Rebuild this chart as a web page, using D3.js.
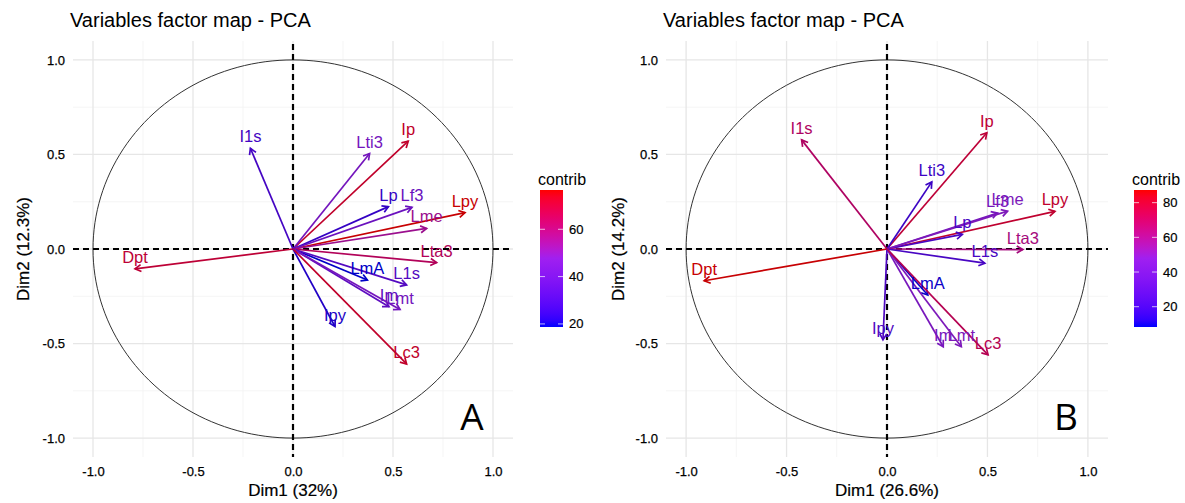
<!DOCTYPE html>
<html>
<head>
<meta charset="utf-8">
<script src="https://cdn.jsdelivr.net/npm/d3@7"></script>
<style>
  body { margin: 0; background: #ffffff; }
  svg { display: block; font-family: "Liberation Sans", Arial, Helvetica, sans-serif; }
</style>
</head>
<body>
<svg id="chart" width="1185" height="503"></svg>
<script>
// ---------------- DATA ----------------
const variables = ["Lpy","Ip","Lti3","I1s","Lp","Lf3","Lme","Lta3","Dpt","LmA","L1s","Im","Lmt","Ipy","Lc3"];

// Panel A : Dim1 (32%) / Dim2 (12.3%)
const dim1A    = [0.860, 0.576, 0.383, -0.213, 0.477, 0.595, 0.668, 0.718, -0.790, 0.372, 0.568, 0.480, 0.535, 0.210, 0.568];
const dim2A    = [0.192, 0.570, 0.505,  0.533, 0.224, 0.220, 0.109, -0.072, -0.105, -0.164, -0.190, -0.305, -0.320, -0.410, -0.608];
const contribA = [76.5, 72, 44, 28, 24, 40, 55, 64, 70, 18.7, 32, 36, 44, 21, 72];

// Panel B : Dim1 (26.6%) / Dim2 (14.2%)
const dim1B    = [0.836, 0.497, 0.223, -0.425, 0.375, 0.550, 0.600, 0.676, -0.910, 0.203, 0.487, 0.280, 0.370, -0.020, 0.503];
const dim2B    = [0.199, 0.615, 0.355,  0.577, 0.077, 0.190, 0.200, -0.003, -0.168, -0.243, -0.075, -0.517, -0.517, -0.480, -0.560];
const contribB = [80, 78, 18, 68, 22, 44, 48, 62, 87, 9, 22, 45, 48, 25, 72];

const axisTicks   = [-1.0, -0.5, 0.0, 0.5, 1.0];
const minorTicks  = [-0.75, -0.25, 0.25, 0.75];
const legendTicksA = [20, 40, 60];
const legendTicksB = [20, 40, 60, 80];
const contribRangeA = [18.7, 76.6];
const contribRangeB = [8.3, 87.3];
const gradientColors = ["#0000FF", "#A020F0", "#FF0000"];

const plotTitle = "Variables factor map - PCA";
const xTitleA = "Dim1 (32%)",   yTitleA = "Dim2 (12.3%)";
const xTitleB = "Dim1 (26.6%)", yTitleB = "Dim2 (14.2%)";
const legendTitle = "contrib";

// ---------------- LAYOUT ----------------
const panels = [
  { id: "A", d1: dim1A, d2: dim2A, contrib: contribA, range: contribRangeA, lticks: legendTicksA,
    xTitle: xTitleA, yTitle: yTitleA, left: 73, right: 513, yTitleX: 23, legendX: 540, tagX: 472 },
  { id: "B", d1: dim1B, d2: dim2B, contrib: contribB, range: contribRangeB, lticks: legendTicksB,
    xTitle: xTitleB, yTitle: yTitleB, left: 666, right: 1108, yTitleX: 618, legendX: 1134, tagX: 1066 }
];
const plotTop = 41, plotBottom = 457;
const dom = [-1.1, 1.1];

const svg = d3.select("#chart");

panels.forEach((p) => {
  const g = svg.append("g");
  const x = d3.scaleLinear().domain(dom).range([p.left, p.right]);
  const y = d3.scaleLinear().domain(dom).range([plotBottom, plotTop]);
  const color = d3.scaleLinear()
    .domain([p.range[0], (p.range[0] + p.range[1]) / 2, p.range[1]])
    .range(gradientColors)
    .interpolate(d3.interpolateLab);
  const ink = v => d3.color(color(v)).darker(0.7).formatHex();

  // minor grid
  g.selectAll(".mx").data(minorTicks).enter().append("line")
    .attr("x1", d => x(d)).attr("x2", d => x(d)).attr("y1", plotTop).attr("y2", plotBottom)
    .attr("stroke", "#f2f2f2").attr("stroke-width", 0.8);
  g.selectAll(".my").data(minorTicks).enter().append("line")
    .attr("y1", d => y(d)).attr("y2", d => y(d)).attr("x1", p.left).attr("x2", p.right)
    .attr("stroke", "#f2f2f2").attr("stroke-width", 0.8);
  // major grid
  g.selectAll(".gx").data(axisTicks).enter().append("line")
    .attr("x1", d => x(d)).attr("x2", d => x(d)).attr("y1", plotTop).attr("y2", plotBottom)
    .attr("stroke", "#e6e6e6").attr("stroke-width", 1.3);
  g.selectAll(".gy").data(axisTicks).enter().append("line")
    .attr("y1", d => y(d)).attr("y2", d => y(d)).attr("x1", p.left).attr("x2", p.right)
    .attr("stroke", "#e6e6e6").attr("stroke-width", 1.3);

  // axes (labels only)
  const fmt = d => d3.format(".1f")(d).replace("\u2212", "-");
  const xAxis = d3.axisBottom(x).tickValues(axisTicks).tickFormat(fmt).tickSize(0).tickPadding(10);
  const gx = g.append("g").attr("transform", `translate(0,${plotBottom})`).call(xAxis);
  const yAxis = d3.axisLeft(y).tickValues(axisTicks).tickFormat(fmt).tickSize(0).tickPadding(8);
  const gy = g.append("g").attr("transform", `translate(${p.left},0)`).call(yAxis);
  [gx, gy].forEach(a => {
    a.select(".domain").remove();
    a.selectAll("text").attr("font-size", 13).attr("fill", "#000")
      .attr("font-family", "'Liberation Sans', Arial, sans-serif")
      .attr("stroke", "#000").attr("stroke-width", 0.25);
  });

  // correlation circle
  const circ = d3.range(0, 361, 2).map(a => [Math.cos(a * Math.PI / 180), Math.sin(a * Math.PI / 180)]);
  g.append("path")
    .attr("d", d3.line().x(d => x(d[0])).y(d => y(d[1]))(circ))
    .attr("fill", "none").attr("stroke", "#333").attr("stroke-width", 1);

  // dashed reference lines
  g.append("line").attr("x1", x(0)).attr("x2", x(0)).attr("y1", plotTop + 3).attr("y2", plotBottom)
    .attr("stroke", "#000").attr("stroke-width", 2.2).attr("stroke-dasharray", "6,4");
  g.append("line").attr("x1", p.left).attr("x2", p.right).attr("y1", y(0)).attr("y2", y(0))
    .attr("stroke", "#000").attr("stroke-width", 2.2).attr("stroke-dasharray", "6,4");

  // arrows
  const rows = variables.map((v, i) => ({ name: v, a: p.d1[i], b: p.d2[i], c: p.contrib[i] }));
  const headLen = 7, headAng = Math.PI / 6;
  rows.forEach(r => {
    const x0 = x(0), y0 = y(0), x1 = x(r.a), y1 = y(r.b);
    const ang = Math.atan2(y1 - y0, x1 - x0);
    const col = ink(r.c);
    g.append("line").attr("x1", x0).attr("y1", y0).attr("x2", x1).attr("y2", y1)
      .attr("stroke", col).attr("stroke-width", 1.7);
    const h1 = [x1 - headLen * Math.cos(ang - headAng), y1 - headLen * Math.sin(ang - headAng)];
    const h2 = [x1 - headLen * Math.cos(ang + headAng), y1 - headLen * Math.sin(ang + headAng)];
    g.append("path").attr("d", `M${h1[0]},${h1[1]}L${x1},${y1}L${h2[0]},${h2[1]}`)
      .attr("fill", "none").attr("stroke", col).attr("stroke-width", 1.7);
  });
  rows.forEach(r => {
    g.append("text").attr("x", x(r.a)).attr("y", y(r.b) - 6)
      .attr("text-anchor", "middle").attr("font-size", 16.5)
      .attr("fill", ink(r.c)).text(r.name);
  });

  // titles
  svg.append("text").attr("x", p.left - 3).attr("y", 27).attr("font-size", 20).attr("fill", "#000").text(plotTitle);
  svg.append("text").attr("x", x(0)).attr("y", 496).attr("text-anchor", "middle").attr("font-size", 17)
    .attr("fill", "#000").attr("stroke", "#000").attr("stroke-width", 0.2).text(p.xTitle);
  svg.append("text").attr("transform", `translate(${p.yTitleX + 6},${y(0)}) rotate(-90)`)
    .attr("text-anchor", "middle").attr("font-size", 17)
    .attr("fill", "#000").attr("stroke", "#000").attr("stroke-width", 0.2).text(p.yTitle);

  // panel tag
  svg.append("text").attr("x", p.tagX).attr("y", 430).attr("text-anchor", "middle")
    .attr("font-size", 37).attr("fill", "#000").attr("font-family", "'Open Sans', sans-serif").text(p.id);

  // legend
  const lg = svg.append("g");
  const barTop = 190, barBot = 327, barW = 23;
  const ly = d3.scaleLinear().domain(p.range).range([barBot, barTop]);
  const gradId = "grad" + p.id;
  const grad = svg.append("defs").append("linearGradient").attr("id", gradId)
    .attr("x1", 0).attr("x2", 0).attr("y1", 1).attr("y2", 0);
  d3.range(0, 1.0001, 0.05).forEach(t => {
    const v = p.range[0] + t * (p.range[1] - p.range[0]);
    grad.append("stop").attr("offset", t).attr("stop-color", color(v));
  });
  lg.append("text").attr("x", p.legendX - 2).attr("y", 185).attr("font-size", 16).attr("fill", "#000").text(legendTitle);
  lg.append("rect").attr("x", p.legendX).attr("y", barTop).attr("width", barW).attr("height", barBot - barTop)
    .attr("fill", `url(#${gradId})`);
  p.lticks.forEach(t => {
    lg.append("line").attr("x1", p.legendX).attr("x2", p.legendX + 5).attr("y1", ly(t)).attr("y2", ly(t))
      .attr("stroke", "#fff").attr("stroke-width", 1).attr("opacity", 0.7);
    lg.append("line").attr("x1", p.legendX + barW - 5).attr("x2", p.legendX + barW).attr("y1", ly(t)).attr("y2", ly(t))
      .attr("stroke", "#fff").attr("stroke-width", 1).attr("opacity", 0.7);
    lg.append("text").attr("x", p.legendX + barW + 6).attr("y", ly(t)).attr("dy", "0.35em")
      .attr("font-size", 13).attr("fill", "#000").attr("stroke", "#000").attr("stroke-width", 0.2).text(t);
  });
});
</script>
</body>
</html>
